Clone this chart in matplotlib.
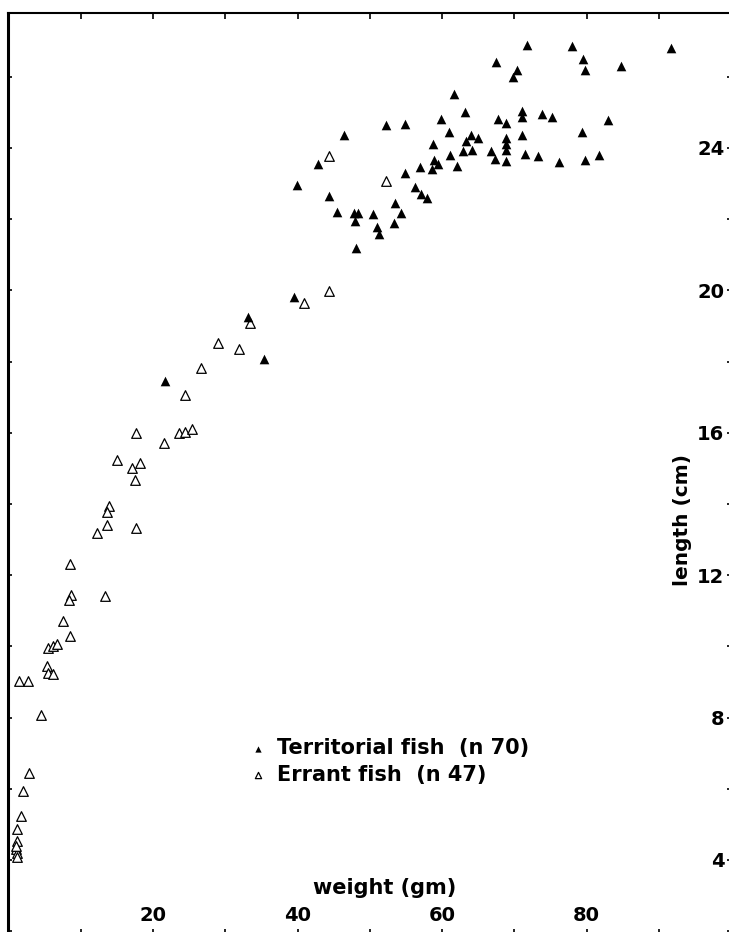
import matplotlib
matplotlib.use("Agg")
import matplotlib.pyplot as plt
from matplotlib.ticker import MultipleLocator, FixedLocator

# weight (gm) / length (cm)
terr_weight = [71.7, 67.5, 70.4, 69.8, 78.0, 79.5, 79.7, 84.7, 91.7, 61.6,
               63.1, 59.8, 67.8, 68.9, 71.0, 71.0, 73.8, 75.2, 83.0, 79.4,
               71.0, 68.9, 68.9, 68.9, 64.9, 66.8, 67.3, 68.8, 71.4, 73.2,
               76.2, 79.8, 81.7, 46.4, 52.2, 54.9, 42.9, 39.9, 44.3, 45.5,
               47.8, 48.3, 48.0, 50.4, 51.0, 51.3, 53.4, 54.3, 53.5, 54.9,
               56.3, 57.1, 57.9, 48.1, 56.9, 58.6, 58.9, 59.4, 58.8, 60.9,
               61.1, 62.0, 62.9, 63.3, 64.0, 64.2, 39.5, 33.1, 35.4, 21.7]
terr_length = [26.9, 26.4, 26.2, 26.0, 26.87, 26.5, 26.2, 26.3, 26.8, 25.5,
               25.0, 24.8, 24.8, 24.7, 25.05, 24.86, 24.96, 24.86, 24.79, 24.45,
               24.37, 24.27, 24.11, 23.94, 24.29, 23.9, 23.68, 23.64, 23.82, 23.78,
               23.59, 23.66, 23.81, 24.37, 24.65, 24.67, 23.55, 22.96, 22.66, 22.2,
               22.17, 22.17, 21.96, 22.15, 21.77, 21.58, 21.9, 22.18, 22.46, 23.29,
               22.9, 22.7, 22.59, 21.19, 23.46, 23.41, 23.66, 23.55, 24.12, 24.44,
               23.79, 23.49, 23.9, 24.18, 24.37, 23.94, 19.81, 19.24, 18.06, 17.46]

err_weight = [44.3, 52.2, 44.3, 40.9, 33.4, 29.0, 31.9, 26.6, 24.4, 23.65,
              24.5, 25.4, 21.5, 17.7, 15.0, 17.1, 18.2, 17.5, 13.9, 13.6,
              13.6, 12.2, 17.6, 8.6, 8.7, 8.4, 13.4, 7.5, 8.5, 5.5,
              6.2, 6.8, 5.3, 5.5, 6.2, 1.5, 2.7, 4.5, 2.8, 2.1,
              1.7, 1.2, 1.2, 1.1, 1.2, 1.2, 1.1]
err_length = [23.76, 23.07, 19.98, 19.65, 19.08, 18.53, 18.36, 17.81, 17.06, 16.0,
              16.03, 16.11, 15.72, 16.0, 15.22, 15.0, 15.14, 14.67, 13.94, 13.76,
              13.4, 13.19, 13.33, 12.31, 11.45, 11.3, 11.4, 10.72, 10.29, 9.95,
              10.01, 10.07, 9.45, 9.24, 9.22, 9.04, 9.02, 8.07, 6.45, 5.94,
              5.24, 4.86, 4.54, 4.3, 4.19, 4.09, 4.39]

x_labels = [20, 40, 60, 80]
y_labels = [4, 8, 12, 16, 20, 24]

plt.rcParams['font.family'] = ['DejaVu Sans']
plt.rcParams['font.weight'] = 'bold'

fig = plt.figure(figsize=(7.29, 9.32), dpi=100)
ax = fig.add_axes([0.01139, -0.0029, 0.99177, 0.989])

err = ax.scatter(err_weight, err_length, marker='^', s=48, facecolors='white',
                 edgecolors='black', linewidths=0.9, zorder=3)
terr = ax.scatter(terr_weight, terr_length, marker='^', s=48, c='black',
                  linewidths=0, zorder=4)

ax.set_xlim(0, 100)
ax.set_ylim(1.9, 27.79)

ax.spines['left'].set_linewidth(2.2)
ax.spines['top'].set_linewidth(1.5)
ax.spines['bottom'].set_visible(False)
ax.spines['right'].set_visible(False)

ax.xaxis.set_major_locator(FixedLocator(x_labels))
ax.xaxis.set_minor_locator(MultipleLocator(10))
ax.yaxis.set_major_locator(FixedLocator(y_labels))
ax.yaxis.set_minor_locator(MultipleLocator(2))

ax.tick_params(axis='x', which='both', direction='in', top=True, bottom=True,
               length=4, width=1.2, labelsize=14, pad=-21)
ax.tick_params(axis='y', which='both', direction='in', left=True, right=True,
               labelleft=False, labelright=True, length=3, width=1.2,
               labelsize=14, pad=-5)
for t in ax.yaxis.get_major_ticks():
    t.label2.set_horizontalalignment('right')

ax.set_xlabel('weight (gm)', fontsize=15, fontweight='bold')
ax.xaxis.set_label_coords(0.52, 0.0615)
ax.yaxis.set_label_position('right')
ax.set_ylabel('length (cm)', fontsize=14.5, fontweight='bold', va='center')
ax.yaxis.set_label_coords(0.933, 0.45)

ax.legend([terr, err], ['Territorial fish  (n 70)', 'Errant fish  (n 47)'],
          loc='upper left', bbox_to_anchor=(0.3315, 0.2134), frameon=False,
          fontsize=15, markerscale=0.65, scatterpoints=1, handlelength=1,
          handletextpad=0.4, labelspacing=0.32, borderpad=0, borderaxespad=0)

fig.savefig('out.png', dpi=100)
